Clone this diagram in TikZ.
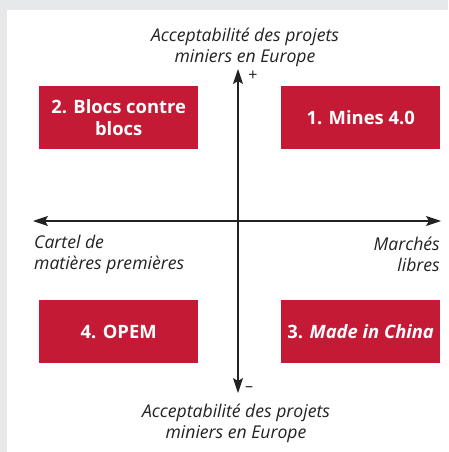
\documentclass[tikz,border=0pt]{standalone}
\usepackage{fontspec}
\setmainfont{Open Sans}
\usetikzlibrary{arrows.meta}
\definecolor{bgGray}{HTML}{E7E8EA}
\definecolor{boxRed}{HTML}{C41A35}
\definecolor{axisInk}{HTML}{222222}
\begin{document}
\begin{tikzpicture}[x=1pt,y=-1pt,
  scenario/.style={fill=boxRed, text=white, font=\fontsize{18.4}{22}\selectfont\bfseries,
    minimum width=159pt, minimum height=63pt, align=center, inner sep=0pt, anchor=north west},
  axislabel/.style={font=\fontsize{17.6}{21}\selectfont\itshape, text=axisInk, inner sep=0pt},
  axis/.style={draw=axisInk, line width=1.1pt, {Stealth[length=15pt,width=10pt,inset=3pt]}-{Stealth[length=15pt,width=10pt,inset=3pt]}},
  sign/.style={font=\fontsize{16}{16}\selectfont, text=axisInk, inner sep=0pt}]
  % background and panel
  \fill[bgGray] (0,0) rectangle (448,452);
  \fill[white] (7,10) rectangle (448,452);
  \useasboundingbox (0,0) rectangle (448,452);

  % axes
  \coordinate (top) at (238,69);
  \coordinate (bottom) at (238,393);
  \coordinate (left) at (33,221);
  \coordinate (right) at (441,221);
  \draw[axis] (bottom) -- (top);
  \draw[axis] (left) -- (right);
  \node[sign] (plus) at (253,76) {+};
  \node[sign] (minus) at (249,389) {–};

  % axis labels
  \node[axislabel, align=center] (toplabel) at (245,47) {Acceptabilité des projets\\miniers en Europe};
  \node[axislabel, align=center] (botlabel) at (236,423) {Acceptabilité des projets\\miniers en Europe};
  \node[axislabel, align=left, anchor=west] (leftlabel) at (34,254) {Cartel de\\matières premières};
  \node[axislabel, align=right, anchor=east] (rightlabel) at (440,254) {Marchés\\libres};

  % scenarios
  \node[scenario] (s2) at (39,86) {2. Blocs contre\\blocs};
  \node[scenario] (s1) at (281,86) {1. Mines 4.0};
  \node[scenario] (s4) at (39,300) {4. OPEM};
  \node[scenario] (s3) at (281,300) {3. \textit{Made in China}};
\end{tikzpicture}
\end{document}
